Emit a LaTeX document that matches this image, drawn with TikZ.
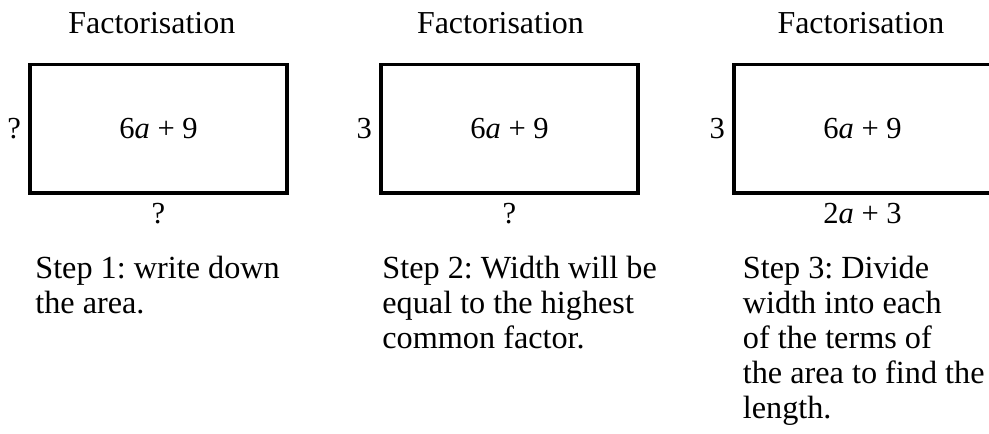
\documentclass[tikz,border=0pt]{standalone}
\usepackage{fontspec}
\setmainfont{Liberation Serif}
\usepackage{tikz}
\frenchspacing

\tikzset{
  areabox/.style={draw, line width=1.2pt, minimum width=3.25cm, minimum height=1.63cm,
    inner sep=0pt, font=\fontsize{11}{13}\selectfont},
  sidelabel/.style={inner sep=0pt, font=\fontsize{11}{13}\selectfont},
  titletext/.style={anchor=base, inner sep=0pt, font=\fontsize{11.5}{13}\selectfont},
  steptext/.style={anchor=north west, align=left, inner sep=0pt,
    font=\fontsize{11.6}{12.6}\selectfont}
}

\begin{document}
\begin{tikzpicture}
\useasboundingbox (0,0) rectangle (12.51,5.48);

% Überschriften
\node[titletext] (t1) at (1.92,5.05) {Factorisation};
\node[titletext] (t2) at (6.33,5.05) {Factorisation};
\node[titletext] (t3) at (10.89,5.05) {Factorisation};

% Rechtecke mit Fläche
\node[areabox] (r1) at (2.005,3.852) {6\textit{a} + 9};
\node[areabox] (r2) at (6.445,3.852) {6\textit{a} + 9};
\node[areabox] (r3) at (10.911,3.852) {6\textit{a} + 9};

% Breite links
\node[sidelabel, anchor=east] (w1) at ([xshift=-2.5pt]r1.west) {?};
\node[sidelabel, anchor=east] (w2) at ([xshift=-2.5pt]r2.west) {3};
\node[sidelabel, anchor=east] (w3) at ([xshift=-2.5pt]r3.west) {3};

% Länge unten
\node[sidelabel, anchor=north] (l1) at ([yshift=-3pt]r1.south) {?};
\node[sidelabel, anchor=north] (l2) at ([yshift=-3pt]r2.south) {?};
\node[sidelabel, anchor=north] (l3) at ([yshift=-3pt]r3.south) {2\textit{a} + 3};

% Schritte
\node[steptext] (s1) at (0.44,2.245) {Step 1: write down\\the area.};
\node[steptext] (s2) at (4.83,2.245) {Step 2: Width will be\\equal to the highest\\common factor.};
\node[steptext] (s3) at (9.39,2.245) {Step 3: Divide\\width into each\\of the terms of\\the area to find the\\length.};

\end{tikzpicture}
\end{document}
